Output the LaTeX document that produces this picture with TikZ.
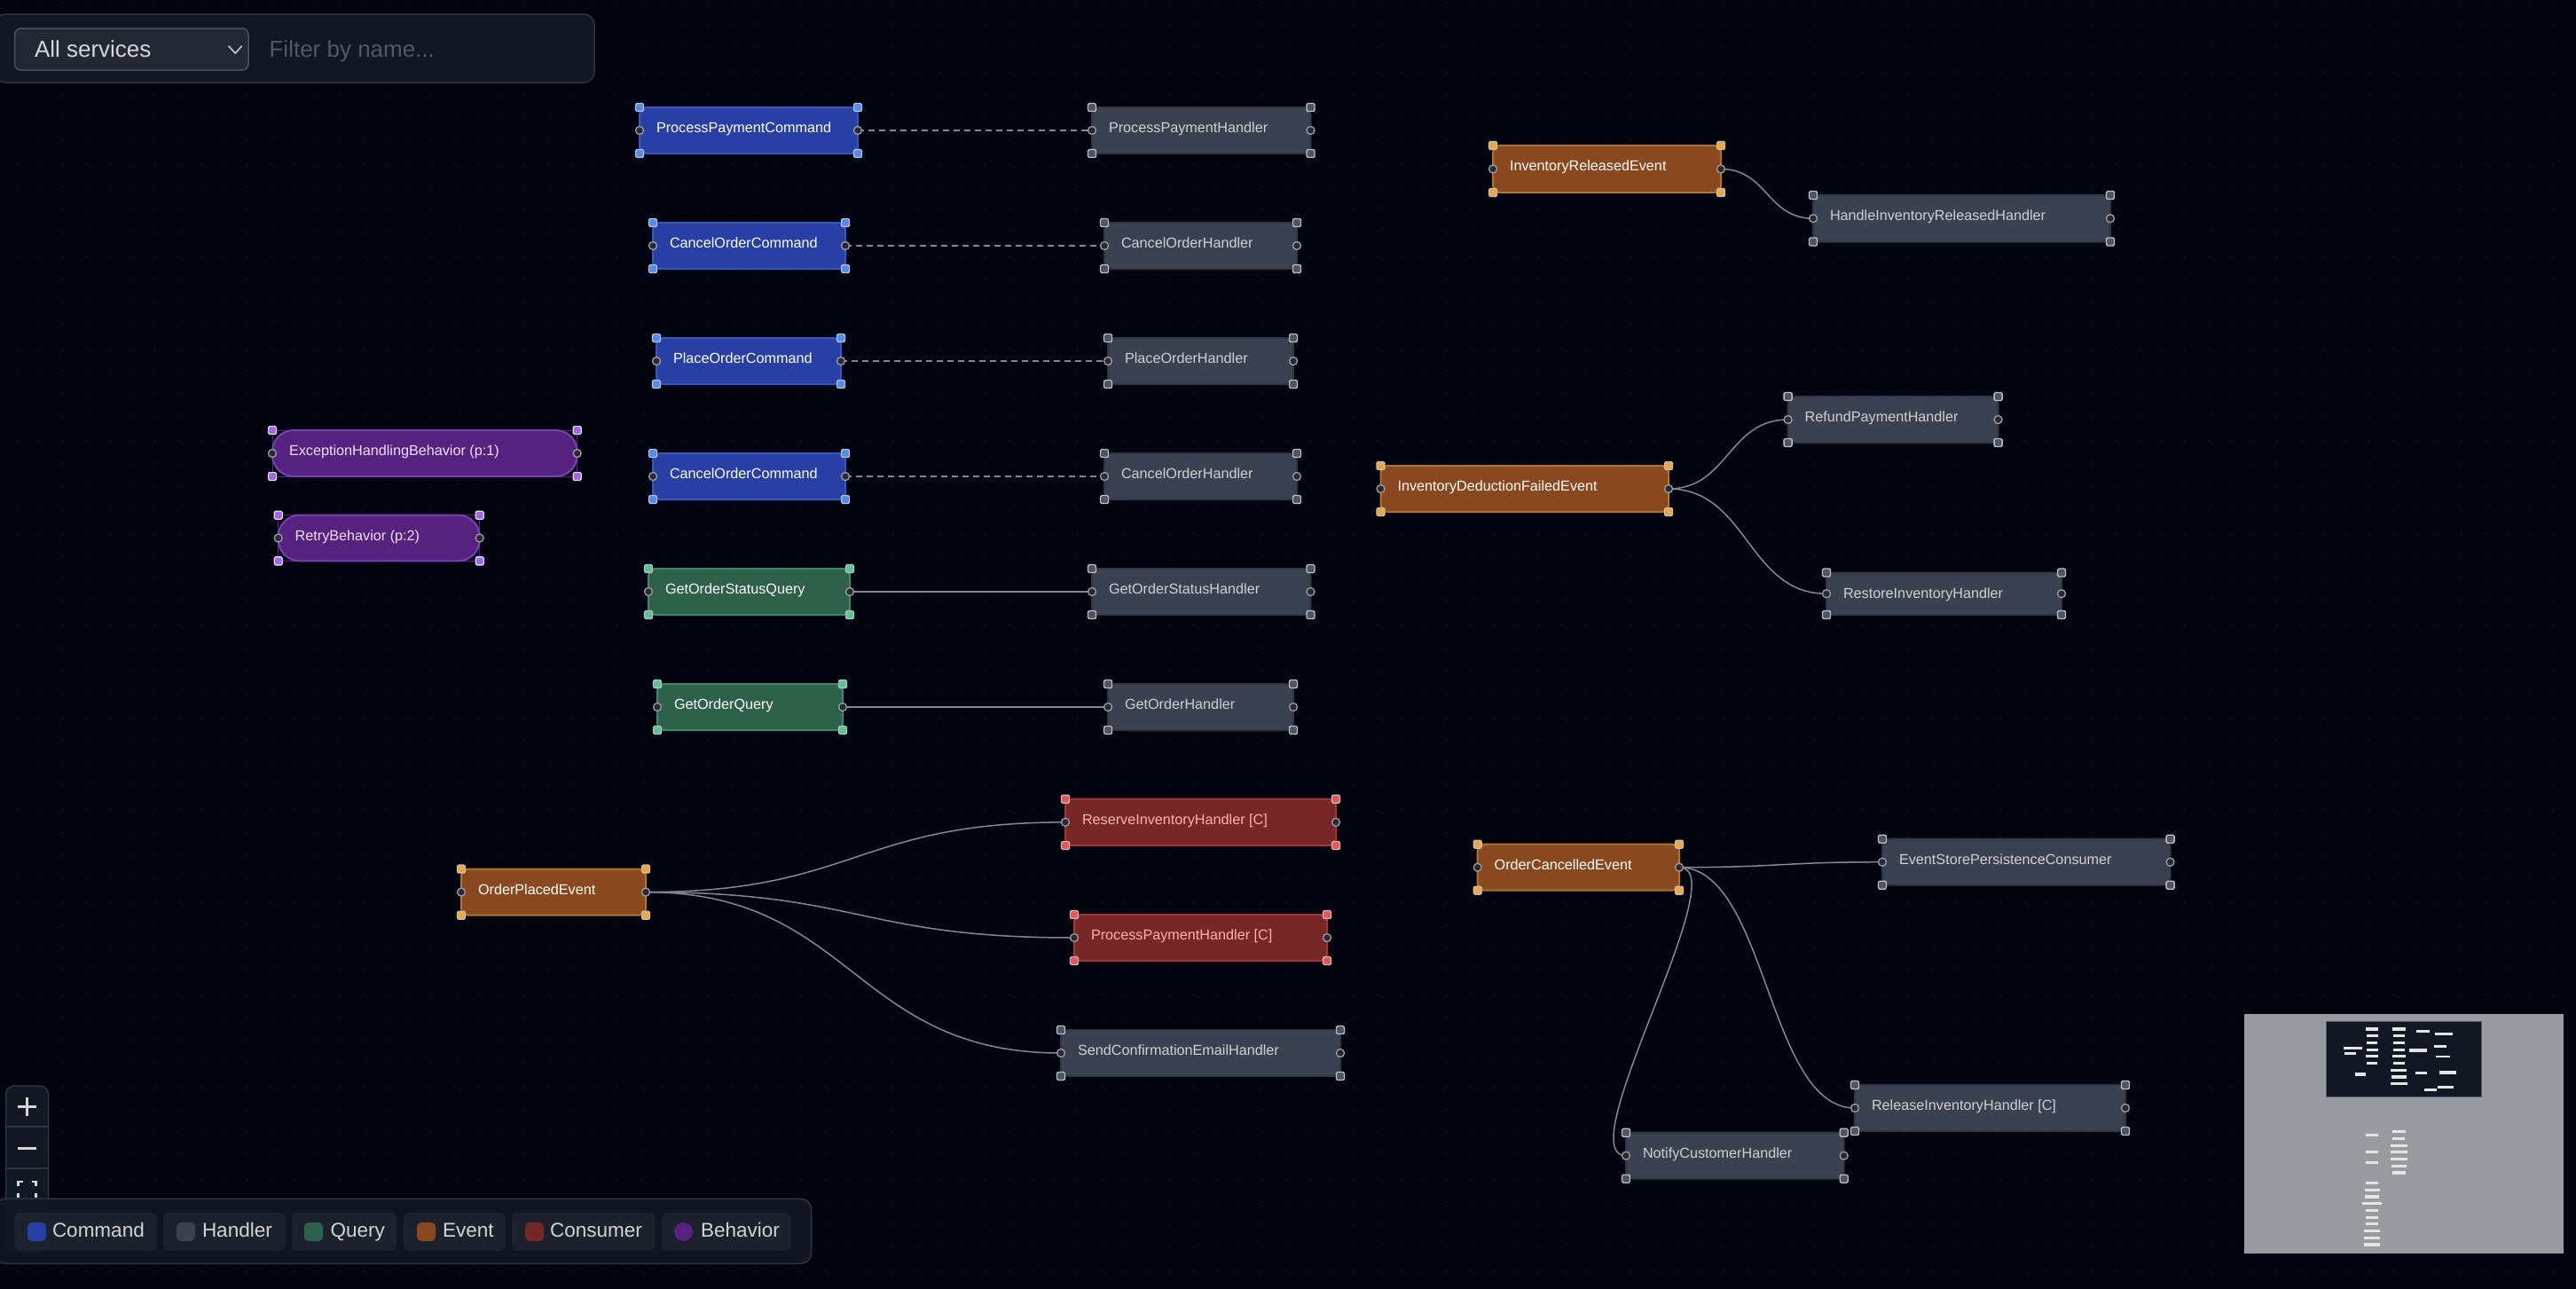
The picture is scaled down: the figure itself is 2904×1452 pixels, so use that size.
\documentclass[tikz,border=0pt]{standalone}
\usepackage{fontspec}
\setmainfont{Liberation Sans}
\usetikzlibrary{calc}
\pgfdeclarelayer{bgl}
\pgfdeclarelayer{edges}
\pgfsetlayers{bgl,edges,main}
\definecolor{bgc}{HTML}{02050F}
\definecolor{dotc}{HTML}{1A2030}
\definecolor{edgec}{HTML}{85878F}
\definecolor{panelc}{HTML}{111723}
\definecolor{panelb}{HTML}{2E3441}
\definecolor{chipc}{HTML}{1D2430}
\definecolor{selectc}{HTML}{222935}
\definecolor{selectb}{HTML}{4A505C}
\definecolor{minic}{HTML}{989BA0}
\definecolor{sidec}{HTML}{292A35}
\definecolor{cmdf}{HTML}{283FA6}\definecolor{cmdb}{HTML}{3458BC}\definecolor{cmdh}{HTML}{4F8CFA}\definecolor{cmds}{HTML}{15224F}
\definecolor{hndf}{HTML}{3A4150}\definecolor{hndb}{HTML}{2F3644}\definecolor{hndh}{HTML}{4B5563}\definecolor{hnds}{HTML}{1E222C}
\definecolor{qryf}{HTML}{2D6149}\definecolor{qryb}{HTML}{3F8A65}\definecolor{qryh}{HTML}{58C592}\definecolor{qrys}{HTML}{1A3B2E}
\definecolor{evtf}{HTML}{8A481E}\definecolor{evtb}{HTML}{B0752A}\definecolor{evth}{HTML}{F0A63A}\definecolor{evts}{HTML}{4C3214}
\definecolor{conf}{HTML}{762726}\definecolor{conb}{HTML}{A63636}\definecolor{conh}{HTML}{EF5350}\definecolor{cons}{HTML}{481A1A}
\definecolor{behf}{HTML}{55237F}\definecolor{behb}{HTML}{7A3FB0}\definecolor{behh}{HTML}{A463F0}\definecolor{behs}{HTML}{4C2A78}
\tikzset{
  x=1pt,y=-1pt,
  flownode/.style={rectangle,inner sep=0pt,outer sep=0pt,line width=2pt,rounded corners=8pt},
  flowtext/.style={inner sep=0pt,outer sep=0pt,anchor=west,font=\fontsize{16.2}{19}\selectfont,text height=11.6pt,text depth=3.2pt},
  corner/.style={rectangle,inner sep=0pt,outer sep=0pt,minimum size=9pt,line width=1.4pt,rounded corners=1.5pt},
  sidedot/.style={circle,inner sep=0pt,outer sep=0pt,minimum size=9pt,line width=1.3pt,fill=sidec,draw=white!62!black},
  cmdnode/.style={flownode,fill=cmdf,draw=cmdb},cmdtext/.style={flowtext,text=white},cmdcorner/.style={corner,fill=cmdh,draw=white!75!black},cmdsel/.style={draw=cmds},
  hndnode/.style={flownode,fill=hndf,draw=hndb},hndtext/.style={flowtext,text=white!82!black},hndcorner/.style={corner,fill=hndh,draw=white!75!black},hndsel/.style={draw=hnds},
  qrynode/.style={flownode,fill=qryf,draw=qryb},qrytext/.style={flowtext,text=white},qrycorner/.style={corner,fill=qryh,draw=white!75!black},qrysel/.style={draw=qrys},
  evtnode/.style={flownode,fill=evtf,draw=evtb},evttext/.style={flowtext,text=white},evtcorner/.style={corner,fill=evth,draw=white!75!black},evtsel/.style={draw=evts},
  connode/.style={flownode,fill=conf,draw=conb},context/.style={flowtext,text=red!30!white},concorner/.style={corner,fill=conh,draw=white!75!black},consel/.style={draw=cons},
  behnode/.style={flownode,rounded corners=24pt,fill=behf,draw=behb},behtext/.style={flowtext,text=behh!20!white},behcorner/.style={corner,fill=behh,draw=white!85!black},behsel/.style={draw=behs},
  linkline/.style={draw=edgec,line width=1.5pt},
  dashlink/.style={linkline,dash pattern=on 7pt off 5pt},
  griddots/.style={draw=dotc,line width=1.5pt,dash pattern=on 1.5pt off 24.5pt},
  panel/.style={fill=panelc,draw=panelb,line width=1.5pt,rounded corners=12pt},
  uitext/.style={inner sep=0pt,outer sep=0pt,anchor=west,font=\fontsize{26}{30}\selectfont,text height=18.6pt,text depth=5.4pt},
  legtext/.style={inner sep=0pt,outer sep=0pt,anchor=west,text=white!83!black,font=\fontsize{22.5}{26}\selectfont,text height=16.2pt,text depth=4.7pt},
  chip/.style={rectangle,inner sep=0pt,outer sep=0pt,fill=chipc,rounded corners=6pt,fill opacity=.92},
  swatch/.style={rectangle,inner sep=0pt,outer sep=0pt,minimum width=21pt,minimum height=21pt,rounded corners=5pt},
  icon/.style={draw=white!84!black,line width=3pt},
  minibar/.style={fill=white!90!black}
}
% #1 style prefix, #2 name, #3 x1, #4 x2, #5 y1, #6 y2, #7 text
\newcommand{\flownodebox}[7]{%
  \draw[#1sel,line width=1pt] (#3,#5) rectangle (#4,#6);
  \node[#1node,minimum width={(#4-#3)*1pt},minimum height={(#6-#5)*1pt}] (#2) at ({(#3+#4)/2},{(#5+#6)/2}) {};
  \node[#1text] (#2-t) at ([xshift=19pt,yshift=-24.4pt]#2.north west) {#7};
  \node[#1corner] (#2-nw) at (#2.north west) {};
  \node[#1corner] (#2-ne) at (#2.north east) {};
  \node[#1corner] (#2-sw) at (#2.south west) {};
  \node[#1corner] (#2-se) at (#2.south east) {};
  \node[sidedot] (#2-w) at (#2.west) {};
  \node[sidedot] (#2-e) at (#2.east) {};
}
\newcommand{\curvelink}[2]{%
  \begin{pgfonlayer}{edges}
  \draw[linkline] let \p1=(#1.east),\p2=(#2.west),\n1={(\x1+\x2)/2} in (\p1) .. controls (\n1,\y1) and (\n1,\y2) .. (\p2);
  \end{pgfonlayer}
}
\newcommand{\straightlink}[3]{%
  \begin{pgfonlayer}{edges}
  \draw[#3] (#1.east) -- (#2.west);
  \end{pgfonlayer}
}
% #1 name, #2 chip x1, #3 chip x2, #4 swatch x, #5 text x, #6 colour, #7 label, #8 swatch extra
\newcommand{\legenditem}[8]{%
  \path[chip] (#2,1367) rectangle (#3,1409.7);
  \node[swatch,fill=#6,#8] (#1-sw) at (#4+10.5,1388.5) {};
  \node[legtext] (#1-t) at (#5,1389) {#7};
}
\newcommand{\mbar}[4]{\fill[minibar] (#1,#3) rectangle (#2,#4);}
\begin{document}
\begin{tikzpicture}
\useasboundingbox (0,0) rectangle (2904,1452);
\begin{pgfonlayer}{bgl}
\fill[bgc] (-10,-10) rectangle (2914,1462);
\foreach \i in {0,...,111}{\draw[griddots] ({19.5+26*\i},1.75) -- ({19.5+26*\i},1452);}
\end{pgfonlayer}

% column 1
\flownodebox{cmd}{cmdpay}{721}{967}{121}{173}{ProcessPaymentCommand}
\flownodebox{cmd}{cmdcancela}{736}{953}{251}{303}{CancelOrderCommand}
\flownodebox{cmd}{cmdplace}{740}{948}{381}{433}{PlaceOrderCommand}
\flownodebox{cmd}{cmdcancelb}{736}{953}{511}{563}{CancelOrderCommand}
\flownodebox{qry}{qrystatus}{731}{958}{641}{693}{GetOrderStatusQuery}
\flownodebox{qry}{qryorder}{741}{950}{771}{823}{GetOrderQuery}
% column 2
\flownodebox{hnd}{hpay}{1231}{1477.5}{121}{173}{ProcessPaymentHandler}
\flownodebox{hnd}{hcancela}{1245}{1462}{251}{303}{CancelOrderHandler}
\flownodebox{hnd}{hplace}{1249}{1458}{381}{433}{PlaceOrderHandler}
\flownodebox{hnd}{hcancelb}{1245}{1462}{511}{563}{CancelOrderHandler}
\flownodebox{hnd}{hstatus}{1231}{1477.5}{641}{693}{GetOrderStatusHandler}
\flownodebox{hnd}{horder}{1249}{1458}{771}{823}{GetOrderHandler}
% behaviours
\flownodebox{beh}{bexc}{307}{650.7}{485}{537}{ExceptionHandlingBehavior (p:1)}
\flownodebox{beh}{bretry}{313.7}{540.7}{580.7}{632.3}{RetryBehavior (p:2)}
% order placed
\flownodebox{evt}{eplaced}{520}{728}{979.5}{1031.7}{OrderPlacedEvent}
\flownodebox{con}{creserve}{1201}{1506}{900.7}{953}{ReserveInventoryHandler [C]}
\flownodebox{con}{cpay}{1211}{1496}{1031}{1083}{ProcessPaymentHandler [C]}
\flownodebox{hnd}{hemail}{1196}{1511}{1161}{1213}{SendConfirmationEmailHandler}
% order cancelled
\flownodebox{evt}{ecancelled}{1665.7}{1893}{951.7}{1003.7}{OrderCancelledEvent}
\flownodebox{hnd}{hstore}{2122}{2446.6}{945.7}{997.7}{EventStorePersistenceConsumer}
\flownodebox{hnd}{hrelease}{2091}{2396}{1223}{1275}{ReleaseInventoryHandler [C]}
\flownodebox{hnd}{hnotify}{1833}{2078.7}{1276.7}{1328.7}{NotifyCustomerHandler}
% inventory
\flownodebox{evt}{ereleased}{1683}{1940}{164}{217}{InventoryReleasedEvent}
\flownodebox{hnd}{hreleased}{2044}{2379}{220}{272.5}{HandleInventoryReleasedHandler}
\flownodebox{evt}{efailed}{1556.5}{1881}{525}{577}{InventoryDeductionFailedEvent}
\flownodebox{hnd}{hrefund}{2015.6}{2252.6}{447}{499}{RefundPaymentHandler}
\flownodebox{hnd}{hrestore}{2059}{2324}{645.5}{693}{RestoreInventoryHandler}

% connectors
\straightlink{cmdpay}{hpay}{dashlink}
\straightlink{cmdcancela}{hcancela}{dashlink}
\straightlink{cmdplace}{hplace}{dashlink}
\straightlink{cmdcancelb}{hcancelb}{dashlink}
\straightlink{qrystatus}{hstatus}{linkline}
\straightlink{qryorder}{horder}{linkline}
\curvelink{eplaced}{creserve}
\curvelink{eplaced}{cpay}
\curvelink{eplaced}{hemail}
\curvelink{ecancelled}{hstore}
\curvelink{ecancelled}{hrelease}
\begin{pgfonlayer}{edges}
\draw[linkline] let \p1=(ecancelled.east),\p2=(hnotify.west),\n1={\x1+66pt},\n2={\x2-66pt} in (\p1) .. controls (\n1,\y1) and (\n2,\y2) .. (\p2);
\end{pgfonlayer}
\curvelink{ereleased}{hreleased}
\curvelink{efailed}{hrefund}
\curvelink{efailed}{hrestore}

% filter bar
\path[panel] (-6,16) rectangle (670,93);
\path[fill=selectc,draw=selectb,line width=1.5pt,rounded corners=7pt] (16.5,32) rectangle (280,79);
\node[uitext,text=white!84!black] (selecttext) at (39,58) {All services};
\draw[draw=white!78!black,line width=1.6pt] (257.6,51.7) -- (265.2,60) -- (272.8,51.7);
\node[uitext,text=white!28!panelc] (filtertext) at (303.6,58) {Filter by name...};

% zoom controls
\path[panel,rounded corners=10pt] (6.5,1224) rectangle (54.6,1410);
\draw[panelb,line width=1.2pt] (6.5,1270) -- (54.6,1270) (6.5,1317) -- (54.6,1317) (6.5,1364) -- (54.6,1364);
\draw[icon] (20,1247) -- (41,1247) (30.5,1237) -- (30.5,1257.5);
\draw[icon] (20,1294) -- (41,1294);
\draw[draw=white!84!black,line width=2.2pt] (20.5,1337) -- (20.5,1332) -- (25.5,1332) (35.5,1332) -- (40.5,1332) -- (40.5,1337) (20.5,1345) -- (20.5,1350) (40.5,1345) -- (40.5,1350);
\fill[white!25!panelc,rounded corners=2pt] (22,1384) rectangle (33,1398);

% legend
\path[panel,fill opacity=.92] (-6,1351.3) rectangle (914.6,1424.3);
\legenditem{lcmd}{16}{176.7}{31}{59}{cmdf}{Command}{}
\legenditem{lhnd}{184}{321.5}{199}{228}{hndf}{Handler}{}
\legenditem{lqry}{329}{447}{343}{372.5}{qryf}{Query}{}
\legenditem{levt}{455}{569.4}{470}{499}{evtf}{Event}{}
\legenditem{lcon}{577}{738.4}{592}{620}{conf}{Consumer}{}
\legenditem{lbeh}{746}{891.5}{760}{790}{behf}{Behavior}{rounded corners=10.4pt}

% minimap
\fill[minic] (2530,1143) rectangle (2890,1413);
\fill[panelc] (2622.7,1151.3) rectangle (2797.3,1236.7);
\draw[white!30!panelc,line width=1.4pt] (2622.7,1151.3) rectangle (2797.3,1236.7);
\begin{scope}[shift={(2520,1130)},x=0.33333pt,y=-0.33333pt]
\mbar{441}{483}{84}{96}\mbar{444}{483}{108}{118}\mbar{444}{480}{132}{141}\mbar{444}{483}{156}{165}\mbar{441}{483}{177}{186}\mbar{444}{480}{201}{210}
\mbar{531}{576}{84}{96}\mbar{534}{573}{108}{117}\mbar{534}{573}{132}{141}\mbar{534}{573}{156}{165}\mbar{531}{576}{177}{186}\mbar{534}{573}{201}{210}
\mbar{525}{579}{225}{234}\mbar{528}{579}{246}{258}\mbar{525}{582}{270}{279}
\mbar{612}{657}{93}{102}\mbar{675}{735}{102}{111}\mbar{672}{714}{144}{153}\mbar{588}{648}{156}{168}\mbar{678}{726}{180}{186}
\mbar{609}{648}{234}{243}\mbar{690}{747}{231}{243}\mbar{684}{738}{282}{291}\mbar{639}{681}{291}{300}
\mbar{366}{429}{150}{159}\mbar{369}{408}{168}{177}\mbar{405}{441}{237}{249}
\mbar{531}{576}{432}{441}\mbar{531}{573}{456}{465}\mbar{525}{582}{480}{489}\mbar{525}{582}{501}{510}\mbar{525}{582}{525}{534}\mbar{528}{579}{549}{558}\mbar{531}{576}{570}{582}
\mbar{441}{483}{444}{453}\mbar{441}{483}{501}{510}\mbar{441}{483}{537}{546}\mbar{441}{483}{606}{615}\mbar{438}{489}{630}{639}\mbar{438}{486}{651}{663}\mbar{429}{495}{675}{684}
\mbar{441}{483}{699}{708}\mbar{441}{483}{723}{732}\mbar{441}{483}{744}{753}\mbar{435}{489}{768}{777}\mbar{435}{489}{792}{801}\mbar{435}{489}{813}{825}
\end{scope}
\end{tikzpicture}
\end{document}
